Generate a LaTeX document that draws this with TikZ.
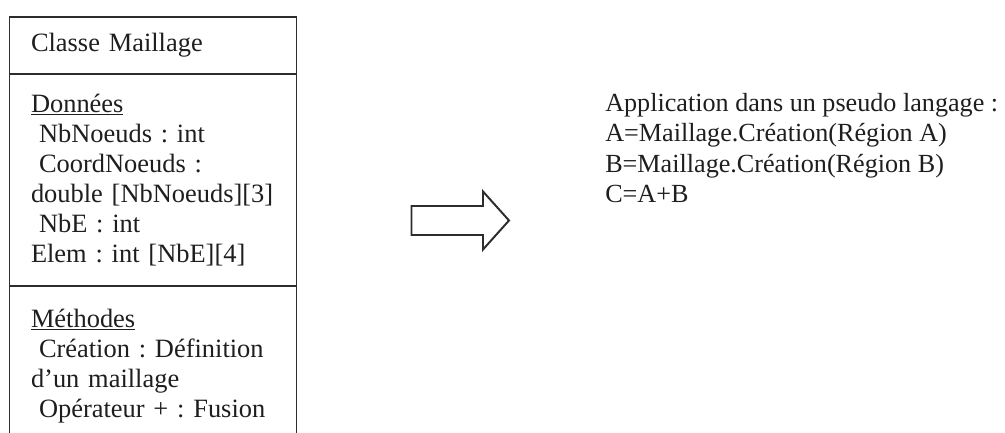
\documentclass[tikz,border=0pt]{standalone}
\usepackage{fontspec}
\setmainfont{Liberation Serif}
\usepackage{tikz}
\usetikzlibrary{positioning}
\definecolor{encre}{RGB}{30,30,30}
\definecolor{trait}{RGB}{45,45,45}
\newcommand{\decal}{\hspace*{0.2cm}}

\begin{document}
\begin{tikzpicture}[every node/.style={font=\fontsize{18.8}{21.3}\selectfont\frenchspacing,text=encre},
  compartiment/.style={draw=trait,line width=1.4pt,outer sep=0pt,minimum width=7.175cm,text width=6.1cm,
    inner xsep=0.5375cm,inner ysep=0.1cm,align=left},
  blocfleche/.style={draw=trait,line width=1.4pt,line join=miter}]
  \clip (0,0) rectangle (25.125,10.8);
  %% Classe
  \node[compartiment,minimum height=1.425cm,anchor=north west] (titre) at (0.2375,10.375)
        {Classe Maillage};
  \node[compartiment,minimum height=5.3cm,below=0pt of titre] (donnees)
        {\underline{Données}\\ \decal NbNoeuds : int\\ \decal CoordNoeuds :\\ double [NbNoeuds][3]\\
         \decal NbE : int\\ Elem : int [NbE][4]};
  \node[compartiment,minimum height=4cm,below=0pt of donnees] (methodes)
        {\underline{Méthodes}\\ \decal Création : Définition\\ d’un maillage\\ \decal Opérateur + : Fusion};
  %% Fleche
  \draw[blocfleche] (10.2875,5.65) -- (12.075,5.65) -- (12.075,6.0125) -- (12.725,5.2875)
        -- (12.075,4.5625) -- (12.075,4.925) -- (10.2875,4.925) -- cycle;
  %% Pseudo langage
  \node[anchor=north west,inner sep=0pt,align=left,
        font=\fontsize{18.6}{21.6}\selectfont\frenchspacing] (pseudo) at (15.125,8.475)
        {Application dans un pseudo langage :\\ A=Maillage.Création(Région A)\\
         B=Maillage.Création(Région B)\\ C=A+B};
\end{tikzpicture}
\end{document}
